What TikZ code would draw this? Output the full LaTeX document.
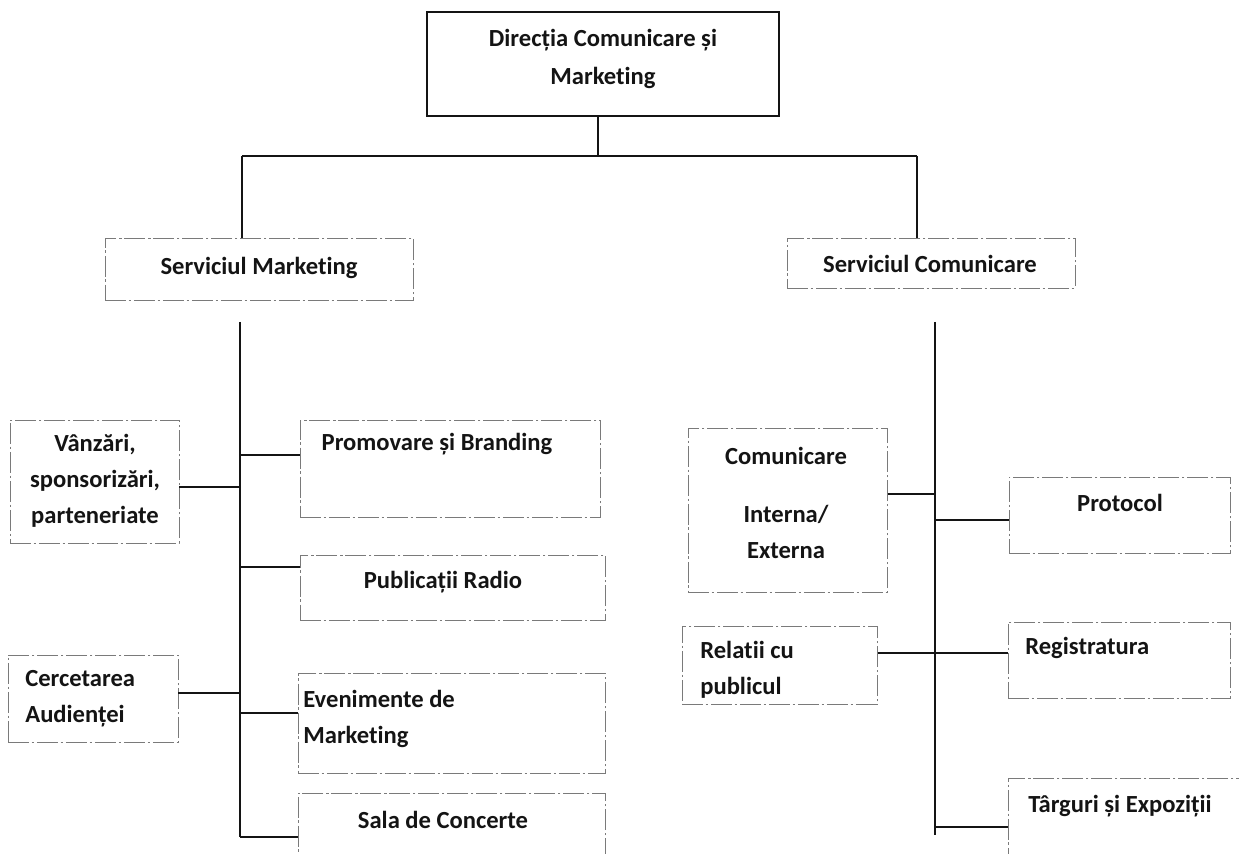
\documentclass[tikz,border=0pt]{standalone}
\usepackage{fontspec}
\setmainfont[Ligatures={NoCommon}]{Carlito}
\usetikzlibrary{positioning, calc, fit}
\definecolor{Ink}{HTML}{141414}
\definecolor{Frame}{HTML}{7A7A7A}
\tikzset{
    unitbox/.style={rectangle, draw=Frame, line width=0.55pt, dash pattern=on 12pt off 1.5pt on 1.5pt off 1.5pt, inner sep=0pt},
    headbox/.style={rectangle, draw=Ink, line width=1pt, inner sep=0pt},
    unittext/.style={text=Ink, font=\bfseries\fontsize{14}{20.5}\selectfont, align=center, inner sep=0pt},
    lefttext/.style={unittext, align=left, anchor=west},
    link/.style={draw=Ink, line width=0.75pt},
}

\begin{document}
\begin{tikzpicture}[x=0.02cm, y=-0.02cm]
        \useasboundingbox (0,0) rectangle (1239,854);
        \clip (0,0) rectangle (1239,854);

        % Directia
        \node[headbox, fit={(427,12) (779,116)}] (head) {};
        \node[unittext] (head-t) at (603,59) {Direcția Comunicare și\\[1.5pt]Marketing};

        % Servicii
        \node[unitbox, fit={(105,238) (413,300)}] (smark) {};
        \node[unittext] (smark-t) at (259,268) {Serviciul Marketing};
        \node[unitbox, fit={(787,238) (1075,288)}] (scom) {};
        \node[unittext] (scom-t) at (930,264) {Serviciul Comunicare};

        \coordinate (bar-l) at (242,156);
        \coordinate (bar-m) at (598,156);
        \coordinate (bar-r) at (917,156);
        \draw[link] (bar-l) -- (bar-r);
        \draw[link] (bar-m |- head.south) -- (bar-m);
        \draw[link] (bar-l) -- (bar-l |- smark.north);
        \draw[link] (bar-r) -- (bar-r |- scom.north);

        % Marketing
        \node[unitbox, fit={(10,420) (179,543)}] (vanz) {};
        \node[unittext] (vanz-t) at (95,481) {Vânzări,\\sponsorizări,\\parteneriate};
        \node[unitbox, fit={(300,420) (600,517)}] (promo) {};
        \node[unittext] (promo-t) at (437,444) {Promovare și Branding};
        \node[unitbox, fit={(300,555) (605,620)}] (radio) {};
        \node[unittext] (radio-t) at (443,582) {Publicații Radio};
        \node[unitbox, fit={(8,655) (178,742)}] (cerc) {};
        \node[lefttext] (cerc-t) at (25,699) {Cercetarea\\Audienței};
        \node[unitbox, fit={(298,673) (605,773)}] (even) {};
        \node[lefttext] (even-t) at (303,719) {Evenimente de\\Marketing};
        \node[unitbox, fit={(298,793) (605,900)}] (sala) {};
        \node[unittext] (sala-t) at (443,820) {Sala de Concerte};

        \coordinate (mk-top) at (240,322);
        \coordinate (mk-end) at (240,837);
        \coordinate (mk-a) at (240,487);
        \coordinate (mk-b) at (240,455);
        \coordinate (mk-c) at (240,567);
        \coordinate (mk-d) at (240,693);
        \coordinate (mk-e) at (240,713);
        \draw[link] (mk-top) -- (mk-end);
        \draw[link] (vanz.east |- mk-a) -- (mk-a);
        \draw[link] (mk-b) -- (mk-b -| promo.west);
        \draw[link] (mk-c) -- (mk-c -| radio.west);
        \draw[link] (cerc.east |- mk-d) -- (mk-d);
        \draw[link] (mk-e) -- (mk-e -| even.west);
        \draw[link] (mk-end) -- (mk-end -| sala.west);

        % Comunicare
        \node[unitbox, fit={(688,428) (887,592)}] (cmint) {};
        \node[unittext] (cmint-t) at (786,503) {Comunicare\\[12pt]Interna/\\Externa};
        \node[unitbox, fit={(1009,477) (1230,553)}] (proto) {};
        \node[unittext] (proto-t) at (1120,503) {Protocol};
        \node[unitbox, fit={(682,626) (877,704)}] (relat) {};
        \node[lefttext] (relat-t) at (700,670) {Relatii cu\\publicul};
        \node[unitbox, fit={(1008,622) (1230,698)}] (regis) {};
        \node[lefttext] (regis-t) at (1025,648) {Registratura};
        \node[unitbox, fit={(1008,778) (1260,900)}] (targ) {};
        \node[unittext] (targ-t) at (1120,806) {Târguri și Expoziții};

        \coordinate (cm-top) at (935,322);
        \coordinate (cm-end) at (935,835);
        \coordinate (cm-a) at (935,494);
        \coordinate (cm-b) at (935,520);
        \coordinate (cm-c) at (935,653);
        \coordinate (cm-d) at (935,827);
        \draw[link] (cm-top) -- (cm-end);
        \draw[link] (cmint.east |- cm-a) -- (cm-a);
        \draw[link] (cm-b) -- (cm-b -| proto.west);
        \draw[link] (relat.east |- cm-c) -- (cm-c -| regis.west);
        \draw[link] (cm-d) -- (cm-d -| targ.west);
    \end{tikzpicture}
\end{document}
